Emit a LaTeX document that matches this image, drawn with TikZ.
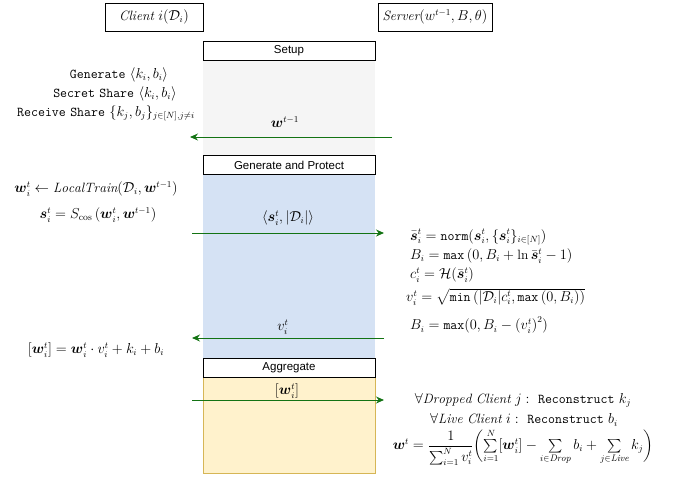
\documentclass[tikz,border=0pt]{standalone}
\usepackage{amsmath,amssymb}
\usepackage{fontspec}
\newfontfamily\helv{Liberation Sans}
\usetikzlibrary{arrows.meta}
\definecolor{arrcol}{HTML}{137313}
\definecolor{grayfill}{HTML}{F5F5F5}
\definecolor{bluefill}{HTML}{D5E2F4}
\definecolor{yelfill}{HTML}{FFF2CC}
\definecolor{yeldraw}{HTML}{D6B656}
\tikzset{
  hdr/.style={draw=black, fill=white, line width=0.8pt, minimum width=172pt, minimum height=19pt, inner sep=0pt, font=\helv\fontsize{11.5}{13}\selectfont},
  role/.style={draw=black, line width=0.8pt, minimum height=28pt, inner sep=0pt, font=\fontsize{13.5}{15}\selectfont},
  region/.style={anchor=north west, inner sep=0pt, minimum width=172pt},
  msg/.style={draw=arrcol, line width=1pt, -{Stealth[length=8pt,width=7pt]}},
  txt/.style={inner sep=0pt, font=\fontsize{13.5}{15}\selectfont},
}
\begin{document}
\begin{tikzpicture}[x=1pt,y=-1pt]
\useasboundingbox (0,0) rectangle (678,477);
% background regions
\node[region, fill=grayfill, minimum height=95pt] (setupbg) at (203,60) {};
\node[region, fill=bluefill, minimum height=183pt] (genbg) at (203,175) {};
\node[region, fill=yelfill, draw=yeldraw, line width=0.8pt, minimum height=96pt] (aggbg) at (203,377) {};
% role boxes
\node[role, minimum width=98pt] (client) at (154,17) {$\mathit{Client}\ i(\mathcal{D}_i)$};
\node[role, minimum width=114pt] (server) at (435,17) {$\mathit{Server}(w^{t-1},B,\theta)$};
% headers
\node[hdr] (setup) at (289,50.5) {Setup};
\node[hdr] (gen) at (289,165) {Generate and Protect};
\node[hdr] (agg) at (289,367.5) {Aggregate};
% setup texts
\node[txt] (g1) at (119,75) {$\mathtt{Generate}\ \langle k_i,b_i\rangle$};
\node[txt] (g2) at (115,94) {$\mathtt{Secret\ Share}\ \langle k_i,b_i\rangle$};
\node[txt] (g3) at (106,113) {$\mathtt{Receive\ Share}\ \{k_j,b_j\}_{j\in[N],j\neq i}$};
% arrows
\coordinate (a1s) at (392,137); \coordinate (a1e) at (190,137);
\draw[msg] (a1s) -- (a1e);
\node[txt] (l1) at (285,122) {$\boldsymbol{w}^{t-1}$};
\coordinate (a2s) at (192,233); \coordinate (a2e) at (384,233);
\draw[msg] (a2s) -- (a2e);
\node[txt] (l2) at (288,218) {$\langle \boldsymbol{s}_i^t, |\mathcal{D}_i|\rangle$};
\coordinate (a3s) at (384,338); \coordinate (a3e) at (192,338);
\draw[msg] (a3s) -- (a3e);
\node[txt] (l3) at (283,327) {$v_i^t$};
\coordinate (a4s) at (192,400); \coordinate (a4e) at (384,400);
\draw[msg] (a4s) -- (a4e);
\node[txt] (l4) at (287,391) {$[\boldsymbol{w}_i^t]$};
% client computations
\node[txt] (c1) at (96,189) {$\boldsymbol{w}_i^t \leftarrow \mathit{LocalTrain}(\mathcal{D}_i, \boldsymbol{w}^{t-1})$};
\node[txt] (c2) at (98,215) {$\boldsymbol{s}_i^t = S_{\cos}\left(\boldsymbol{w}_i^t, \boldsymbol{w}^{t-1}\right)$};
\node[txt] (c3) at (96,350) {$[\boldsymbol{w}_i^t] = \boldsymbol{w}_i^t \cdot v_i^t + k_i + b_i$};
% server computations
\node[txt, anchor=west] (s1) at (410,237) {$\bar{\boldsymbol{s}}_i^t = \mathtt{norm}(\boldsymbol{s}_i^t, \{\boldsymbol{s}_i^t\}_{i\in[N]})$};
\node[txt, anchor=west] (s2) at (410,256) {$B_i = \mathtt{max}\left(0, B_i + \ln \bar{\boldsymbol{s}}_i^t - 1\right)$};
\node[txt, anchor=west] (s3) at (410,275) {$c_i^t = \mathcal{H}(\bar{\boldsymbol{s}}_i^t)$};
\node[txt, anchor=west] (s4) at (406,297) {$v_i^t = \sqrt{\mathtt{min}\left(|\mathcal{D}_i| c_i^t, \mathtt{max}\left(0,B_i\right)\right)}$};
\node[txt, anchor=west] (s5) at (410,325) {$B_i = \mathtt{max}(0, B_i - \left(v_i^t\right)^2)$};
% aggregation
\node[txt] (r1) at (523,400) {$\forall \mathit{Dropped\ Client}\ j:\ \mathtt{Reconstruct}\ k_j$};
\node[txt] (r2) at (524,420) {$\forall \mathit{Live\ Client}\ i:\ \mathtt{Reconstruct}\ b_i$};
\node[txt] (r3) at (523,447) {$\boldsymbol{w}^t = \dfrac{1}{\sum_{i=1}^N v_i^t}\biggl(\sum\limits_{i=1}^N [\boldsymbol{w}_i^t] - \sum\limits_{i\in \mathit{Drop}} b_i + \sum\limits_{j\in \mathit{Live}} k_j\biggr)$};
\end{tikzpicture}
\end{document}
